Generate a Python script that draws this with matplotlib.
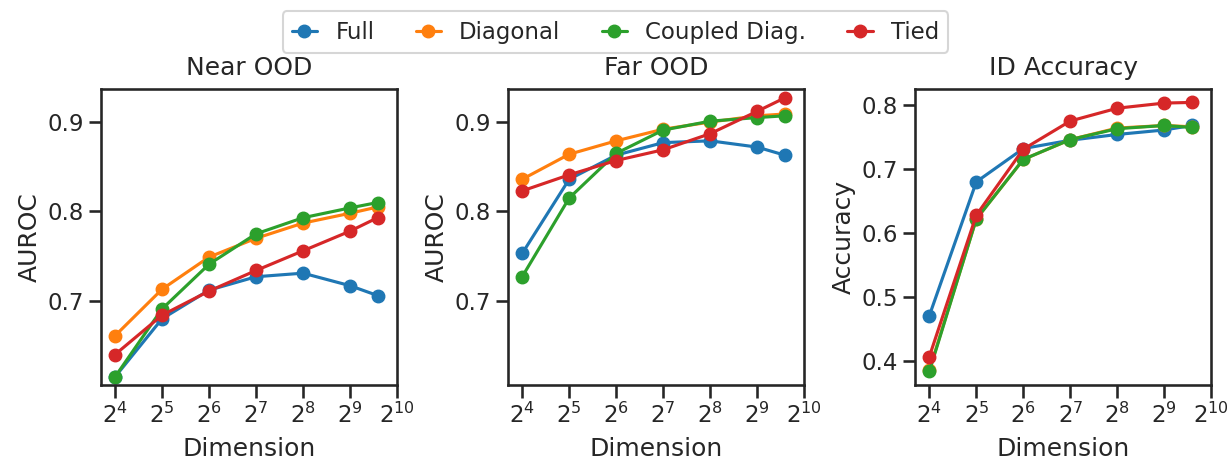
import numpy as np
import matplotlib
matplotlib.use("Agg")
import matplotlib.pyplot as plt
import seaborn as sns

dims = [16, 32, 64, 128, 256, 512, 768]
methods = ["Full", "Diagonal", "Coupled Diag.", "Tied"]

near_full = [0.615, 0.680, 0.712, 0.727, 0.731, 0.717, 0.706]
near_diag = [0.661, 0.713, 0.749, 0.770, 0.787, 0.798, 0.805]
near_coupled = [0.615, 0.691, 0.741, 0.775, 0.793, 0.804, 0.810]
near_tied = [0.640, 0.684, 0.711, 0.734, 0.756, 0.778, 0.793]

far_full = [0.753, 0.836, 0.863, 0.877, 0.879, 0.872, 0.863]
far_diag = [0.836, 0.864, 0.879, 0.892, 0.900, 0.907, 0.909]
far_coupled = [0.727, 0.815, 0.865, 0.891, 0.901, 0.905, 0.907]
far_tied = [0.823, 0.841, 0.857, 0.869, 0.887, 0.912, 0.927]

acc_full = [0.471, 0.680, 0.732, 0.745, 0.754, 0.761, 0.768]
acc_diag = [0.386, 0.622, 0.715, 0.746, 0.764, 0.768, 0.766]
acc_coupled = [0.384, 0.622, 0.715, 0.746, 0.763, 0.768, 0.765]
acc_tied = [0.407, 0.628, 0.731, 0.775, 0.795, 0.803, 0.804]

panels = [
    ("Near OOD", "AUROC", [near_full, near_diag, near_coupled, near_tied]),
    ("Far OOD", "AUROC", [far_full, far_diag, far_coupled, far_tied]),
    ("ID Accuracy", "Accuracy", [acc_full, acc_diag, acc_coupled, acc_tied]),
]

sns.set_theme(context="talk", style="ticks", palette="tab10")
plt.rcParams["font.family"] = ["DejaVu Sans"]

fig, axes = plt.subplots(1, 3, figsize=(12.31, 4.61), dpi=100)
fig.subplots_adjust(left=0.082, right=0.984, top=0.807, bottom=0.165, wspace=0.375)

for ax, (title, ylabel, series) in zip(axes, panels):
    for name, vals in zip(methods, series):
        ax.plot(dims, vals, marker="o", label=name)
    ax.set_xscale("log", base=2)
    ax.set_xticks([2 ** k for k in range(4, 11)])
    ax.set_xlim(2 ** 3.7, 2 ** 10)
    ax.minorticks_off()
    ax.set_title(title, pad=10)
    ax.set_xlabel("Dimension", labelpad=7)
    ax.set_ylabel(ylabel)

# the two AUROC panels share one range
axes[0].set_ylim(0.606, 0.937)
axes[1].set_ylim(0.606, 0.937)
axes[0].set_yticks([0.7, 0.8, 0.9])
axes[1].set_yticks([0.7, 0.8, 0.9])

handles, labels = axes[0].get_legend_handles_labels()
fig.legend(handles, labels, loc="upper center", bbox_to_anchor=(0.5, 1.0),
           ncol=4, handlelength=1.1, columnspacing=1.8)

fig.savefig("out.png")
